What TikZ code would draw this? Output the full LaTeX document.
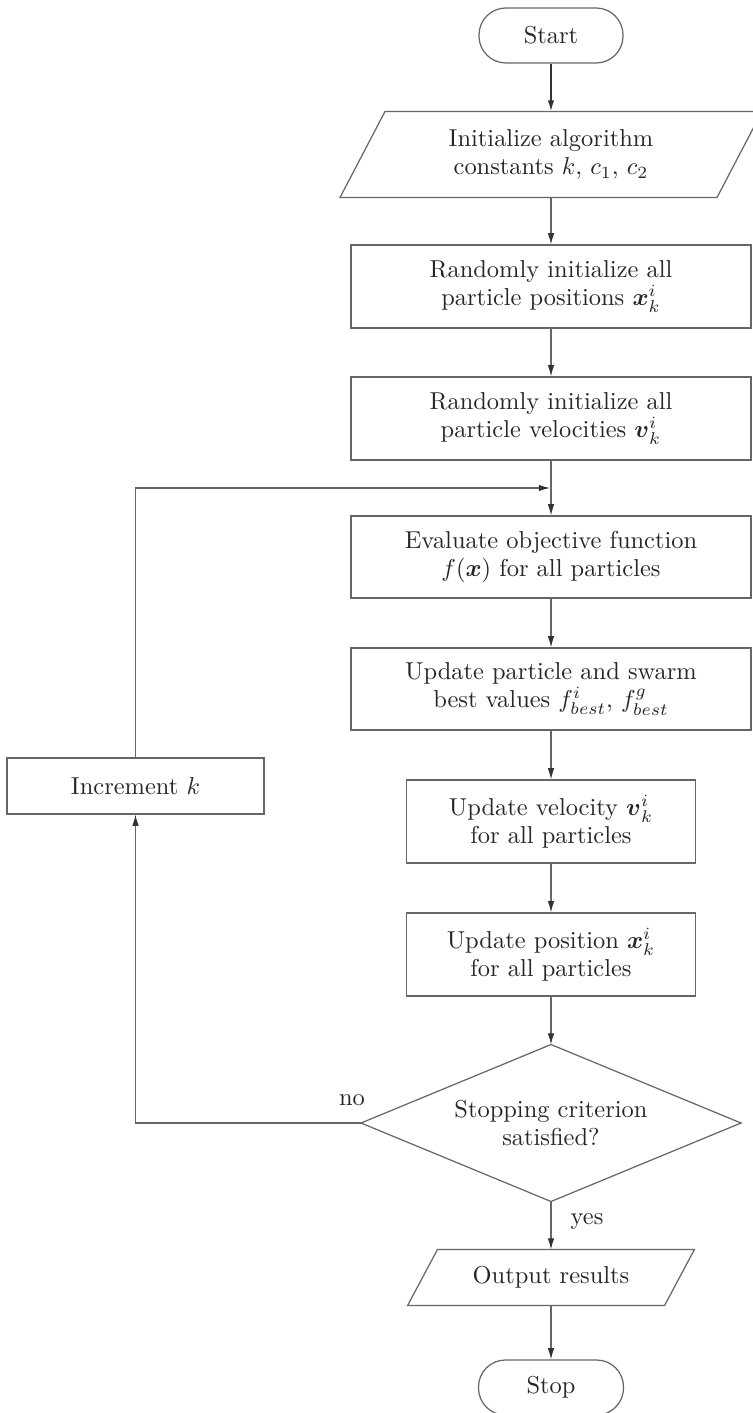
\documentclass[tikz,border=0pt]{standalone}
\usepackage{amsmath}
\usetikzlibrary{arrows.meta}
\begin{document}
\begin{tikzpicture}[x=0.409pt,y=-0.409pt,
  every node/.style={font=\fontsize{10}{11.5}\selectfont, text=black!85},
  sz/.style 2 args={minimum width=#1*0.409pt, minimum height=#2*0.409pt},
  proc/.style={draw=black!60, line width=0.5pt, rectangle, align=center, inner sep=0pt},
  term/.style={proc, rounded corners=11pt},
  frame/.style={rectangle, align=center, inner sep=0pt},
  shapeline/.style={draw=black!60, line width=0.5pt},
  arr/.style={draw=black!60, line width=0.5pt, -{Latex[length=4.6pt,width=2.7pt,color=black!80]}},
  lbl/.style={inner sep=1pt}
]
\path[fill=white, use as bounding box] (0,0) rectangle (753,1413);

\node[term, sz={144}{55}] (start) at (551,35.5) {Start};
\node[frame, sz={376}{85}] (init) at (551,154.5) {Initialize algorithm\\ constants $k$, $c_1$, $c_2$};
\node[proc, sz={400}{83}] (b1) at (551,286.5) {Randomly initialize all\\ particle positions $\boldsymbol{x}^i_k$};
\node[proc, sz={400}{83}] (b2) at (551,418.5) {Randomly initialize all\\ particle velocities $\boldsymbol{v}^i_k$};
\node[proc, sz={400}{82}] (b3) at (551,557) {Evaluate objective function\\ $f(\boldsymbol{x})$ for all particles};
\node[proc, sz={400}{82}] (b4) at (551,689) {Update particle and swarm\\ best values $f^i_{best}$, $f^g_{best}$};
\node[proc, sz={289}{83}] (b5) at (551,821.5) {Update velocity $\boldsymbol{v}^i_k$\\ for all particles};
\node[proc, sz={289}{83}] (b6) at (551,954.5) {Update position $\boldsymbol{x}^i_k$\\ for all particles};
\node[frame, sz={379}{156}] (dia) at (551,1123) {Stopping criterion\\ satisfied?};
\node[frame, sz={256}{55}] (out) at (551,1277.5) {Output results};
\node[term, sz={145}{55}] (stop) at (551,1387.5) {Stop};
\node[proc, sz={257}{56}] (inc) at (135.5,786) {Increment $k$};

% shapes drawn from node frames
\draw[shapeline] ([xshift=-9.2pt]init.south west) -- ([xshift=-9.2pt]init.south east)
  -- ([xshift=9.2pt]init.north east) -- ([xshift=9.2pt]init.north west) -- cycle;
\draw[shapeline] (dia.north) -- (dia.east) -- (dia.south) -- (dia.west) -- cycle;
\draw[shapeline] ([xshift=-6.1pt]out.south west) -- ([xshift=-6.1pt]out.south east)
  -- ([xshift=6.1pt]out.north east) -- ([xshift=6.1pt]out.north west) -- cycle;

\coordinate (join) at (550,488);

\draw[arr, draw=black!80, line width=0.7pt] (start) -- (init);
\draw[arr] (init) -- (b1);
\draw[arr] (b1) -- (b2);
\draw[arr] (b2) -- (b3);
\draw[arr] (b3) -- (b4);
\draw[arr] (b4) -- (b5);
\draw[arr] (b5) -- (b6);
\draw[arr] (b6) -- (dia.north);
\draw[arr] (dia.south) -- (out);
\draw[arr] (out) -- (stop);
\draw[arr] (dia.west) -| (inc.south);
\draw[arr] (inc.north) |- (join);

\node[lbl] (lno) at (352,1100) {no};
\node[lbl] (lyes) at (587,1222) {yes};
\end{tikzpicture}
\end{document}
